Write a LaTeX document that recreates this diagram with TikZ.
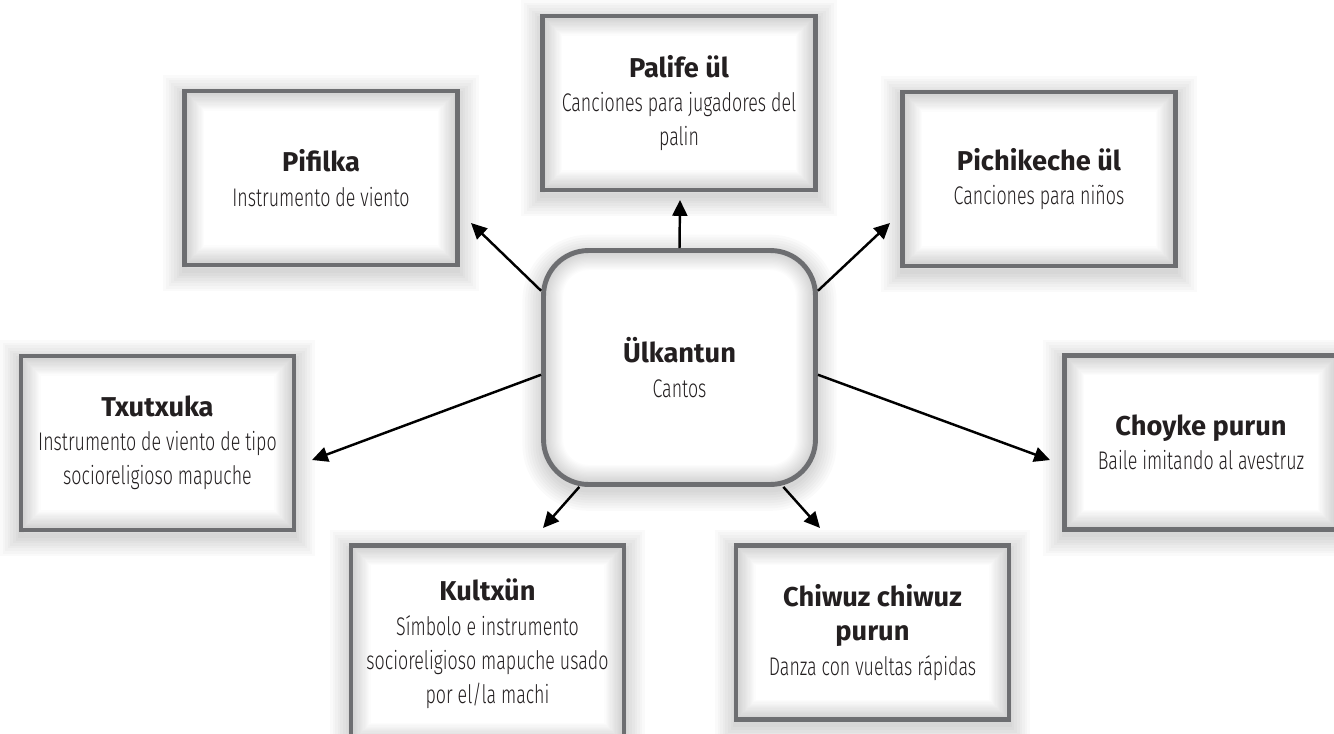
\documentclass[tikz,border=0pt]{standalone}
\usepackage{fontspec}
\setmainfont{Fira Sans}
\newfontfamily\headfont{Fira Sans}
\newfontfamily\descfont{Fira Sans Light}[FakeStretch=0.7]
\usetikzlibrary{arrows.meta,calc}

\definecolor{framegray}{HTML}{6D6E71}
\definecolor{inkblack}{HTML}{231F20}

\newcommand{\ttl}[1]{{\headfont\bfseries\fontsize{15.5}{19.5}\selectfont #1}}
\newcommand{\dsc}[1]{{\descfont #1}}

\tikzset{
  % soft drop shadow built from stacked translucent strokes
  shadowring/.style={
    preaction={draw=black,draw opacity=0.02,line width=#1pt,
               transform canvas={yshift=-3pt}}
  },
  softshadow/.style={shadowring/.list={3,6,9,12,15,18,21,24}},
  glowrect/.style={
    path picture={
      \foreach \k in {1,...,16}{
        \draw[black,opacity=0.011,line width=\k*1.4pt]
          (path picture bounding box.north west) rectangle
          (path picture bounding box.south east);
      }
    }
  },
  glowround/.style={
    path picture={
      \foreach \k in {1,...,16}{
        \draw[black,opacity=0.011,line width=\k*1.4pt,rounded corners=0.9cm]
          (path picture bounding box.north west) rectangle
          (path picture bounding box.south east);
      }
    }
  },
  infobox/.style={
    softshadow,
    draw=framegray, line width=2.8pt, fill=white,
    minimum width=5.46cm, minimum height=3.48cm,
    align=center, inner sep=2pt, text=inkblack,
    font=\fontsize{14.5}{19.5}\selectfont,
    glowrect
  },
  hubbox/.style={
    infobox, rounded corners=0.9cm,
    minimum width=5.44cm, minimum height=4.68cm,
    glowround
  },
  link/.style={
    draw=black, line width=1.4pt,
    -{Triangle[length=9pt,width=8.5pt]}
  }
}

\begin{document}
\begin{tikzpicture}[x=0.02cm,y=-0.02cm]
  \clip (0,0) rectangle (1334,733);
  \fill[white] (0,0) rectangle (1334,733);

  % outer topic boxes
  \node[infobox] (pif) at (321,178)
    {\ttl{Pifilka}\\\dsc{Instrumento de viento}};
  \node[infobox] (pal) at (679,103)
    {\ttl{Palife ül}\\\dsc{Canciones para jugadores del}\\\dsc{palin}};
  \node[infobox] (pic) at (1039,179)
    {\ttl{Pichikeche ül}\\\dsc{Canciones para niños}};
  \node[infobox] (txu) at (157.5,443)
    {\ttl{Txutxuka}\\\dsc{Instrumento de viento de tipo}\\\dsc{socioreligioso mapuche}};
  \node[infobox] (cho) at (1201,442.5)
    {\ttl{Choyke purun}\\\dsc{Baile imitando al avestruz}};
  \node[infobox,minimum height=3.94cm] (kul) at (487.5,644)
    {\ttl{Kultxün}\\\dsc{Símbolo e instrumento}\\\dsc{socioreligioso mapuche usado}\\\dsc{por el/la machi}};
  \node[infobox] (chi) at (872.5,632.5)
    {\ttl{Chiwuz chiwuz}\\\ttl{purun}\\\dsc{Danza con vueltas rápidas}};

  % central hub
  \node[hubbox] (hub) at (679.5,367.5)
    {\ttl{Ülkantun}\\\dsc{Cantos}};

  % arrow tips beside the boxes
  \coordinate (tpif) at (471,223);
  \coordinate (tpal) at (680,200);
  \coordinate (tpic) at (890,223);
  \coordinate (ttxu) at (312,460);
  \coordinate (tcho) at (1050,460);
  \coordinate (tkul) at (543,528);
  \coordinate (tchi) at (820,528);

  \draw[link] (hub.151)   -- (tpif);
  \draw[link] (hub.north) -- (tpal);
  \draw[link] (hub.29)    -- (tpic);
  \draw[link] (hub.183.5) -- (ttxu);
  \draw[link] (hub.-3.5)  -- (tcho);
  \draw[link] (hub.-130)  -- (tkul);
  \draw[link] (hub.-49)   -- (tchi);
\end{tikzpicture}
\end{document}
